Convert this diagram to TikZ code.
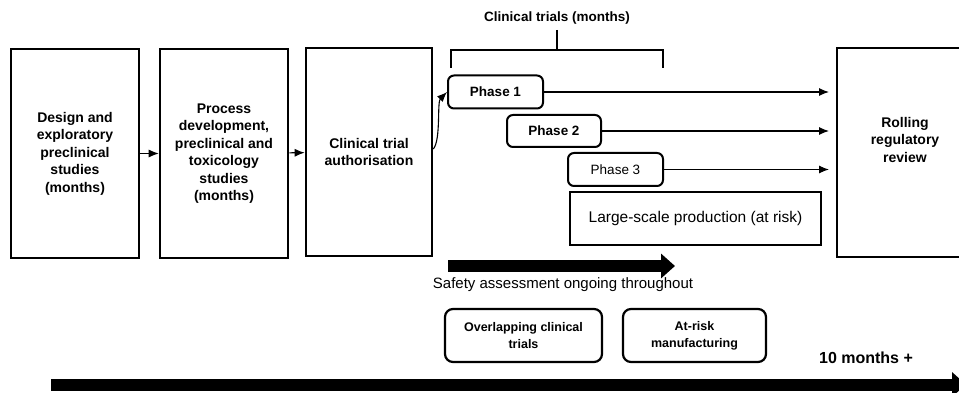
\documentclass[tikz,border=0pt]{standalone}
\usepackage{fontspec}
\setmainfont{Liberation Sans}
\usetikzlibrary{arrows.meta}
\tikzset{
  bigbox/.style={draw, line width=2.6pt, align=center, inner sep=2pt,
    font=\bfseries\fontsize{14}{17.5}\selectfont},
  phasebox/.style={draw, line width=2pt, rounded corners=6pt, align=center,
    minimum width=95pt, minimum height=33pt, inner sep=2pt,
    font=\bfseries\fontsize{13.5}{16}\selectfont},
  notebox/.style={draw, line width=2.2pt, rounded corners=8pt, align=center,
    minimum width=150pt, minimum height=53pt, inner sep=2pt,
    font=\bfseries\fontsize{12.5}{17}\selectfont},
  conn/.style={line width=1.1pt, -{Latex[length=10pt,width=8pt]}},
  fatarrow/.style={line width=12pt, -{Triangle[length=14pt,width=24pt]}},
  plain/.style={font=\fontsize{15}{17}\selectfont, inner sep=0pt}
}
\begin{document}
\begin{tikzpicture}[x=1pt,y=-1pt]
\useasboundingbox (0,0) rectangle (959,393);

% main boxes
\node[bigbox, minimum width=128pt, minimum height=209pt] (b1) at (75,153.5)
  {Design and\\exploratory\\preclinical\\studies\\(months)};
\node[bigbox, minimum width=128pt, minimum height=209pt] (b2) at (224,153.5)
  {Process\\development,\\preclinical and\\toxicology\\studies\\(months)};
\node[bigbox, minimum width=126pt, minimum height=208pt] (b3) at (369,152)
  {Clinical trial\\authorisation};
\node[bigbox, minimum width=136pt, minimum height=209pt] (rr) at (905,152.5)
  {Rolling\\regulatory\\review\\[8pt]};

% phases
\node[phasebox] (p1) at (495.5,92) {Phase 1};
\node[phasebox, minimum width=94pt, minimum height=32pt] (p2) at (554,131) {Phase 2};
\node[phasebox, font=\fontsize{13.5}{16}\selectfont] (p3) at (615.5,169.5) {Phase 3};
\node[draw, line width=1.5pt, minimum width=251pt, minimum height=53pt,
  font=\fontsize{15.5}{17}\selectfont] (ls) at (695.5,218.5) {Large-scale production (at risk)};

% title and bracket
\node[font=\bfseries\fontsize{13.5}{16}\selectfont, inner sep=0pt] (title) at (557,18) {Clinical trials (months)};
\coordinate (brTop) at (557,30);
\coordinate (brMid) at (557,50);
\coordinate (brL) at (451,68);
\coordinate (brLt) at (451,50);
\coordinate (brRt) at (663,50);
\coordinate (brR) at (663,68);
\draw[line width=1.6pt] (brL) -- (brLt) -- (brRt) -- (brR);
\draw[line width=1.6pt] (brTop) -- (brMid);

% connectors
\draw[conn] (b1) -- (b2);
\draw[conn] (b2) -- (b3);
\draw[conn] ([yshift=3pt]b3.east) .. controls (441,140) and (437,102) .. (p1.west);
\coordinate (e1) at (829,92);
\coordinate (e2) at (829,131);
\coordinate (e3) at (829,169.5);
\draw[conn] (p1.east) -- (e1);
\draw[conn] (p2.east) -- (e2);
\draw[conn] (p3.east) -- (e3);

% safety arrow
\coordinate (s0) at (448,266);
\coordinate (s1) at (675,266);
\draw[fatarrow] (s0) -- (s1);
\node[plain] (safety) at (563,285) {Safety assessment ongoing throughout};

% notes
\node[notebox, minimum width=157pt] (ov) at (523.5,335.5) {Overlapping clinical\\trials};
\node[notebox, minimum width=143pt] (ar) at (694.5,335.5) {At-risk\\manufacturing};

% bottom timeline
\node[font=\bfseries\fontsize{16}{18}\selectfont, inner sep=0pt] (ten) at (866,358) {10 months +};
\coordinate (t0) at (51,384.5);
\coordinate (t1) at (966,384.5);
\draw[fatarrow] (t0) -- (t1);
\end{tikzpicture}
\end{document}
